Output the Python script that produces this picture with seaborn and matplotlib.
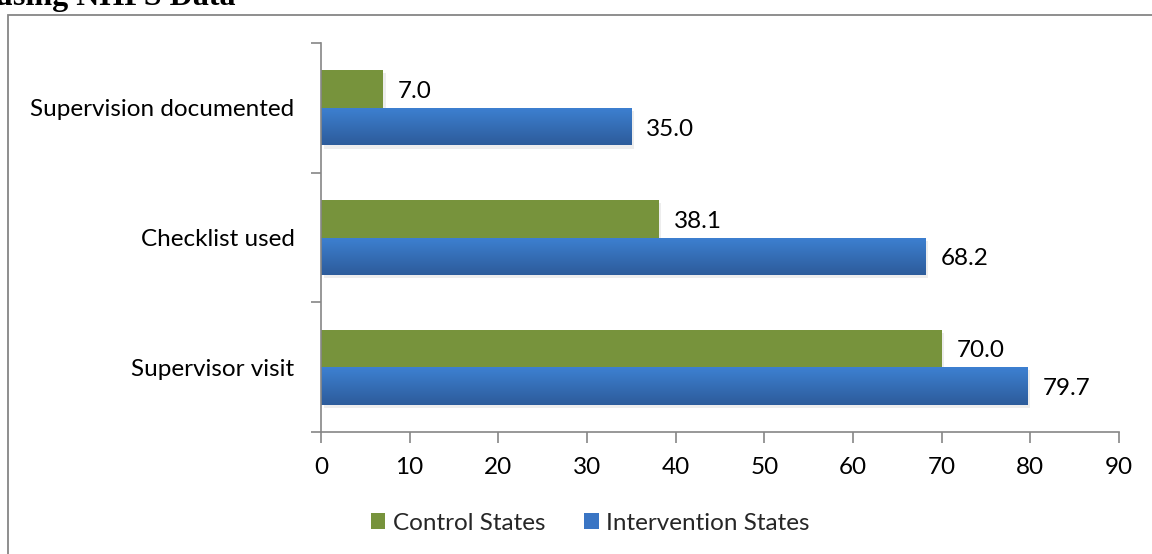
import numpy as np
import pandas as pd
import matplotlib
matplotlib.use("Agg")
import matplotlib.pyplot as plt
from matplotlib.patches import Rectangle, Patch
from matplotlib.colors import LinearSegmentedColormap
import seaborn as sns

categories = ["Supervision documented", "Checklist used", "Supervisor visit"]
control = [7.0, 38.1, 70.0]
intervention = [35.0, 68.2, 79.7]
series_names = ["Control States", "Intervention States"]
x_ticks = [0, 10, 20, 30, 40, 50, 60, 70, 80, 90]

df = pd.DataFrame({
    "category": categories * 2,
    "value": control + intervention,
    "series": [series_names[0]] * 3 + [series_names[1]] * 3,
})

sns.set_theme(style="white")
plt.rcParams["font.family"] = ["Lato", "DejaVu Sans"]

FONT = "Lato"
FS = 17.5
green = "#77933C"
blue = "#3A75C4"

fig = plt.figure(figsize=(11.52, 5.54), dpi=100)
ax = fig.add_axes([321 / 1152, 1 - 432 / 554, (1119 - 321) / 1152, (432 - 43) / 554])

sns.barplot(data=df, y="category", x="value", hue="series", order=categories,
            hue_order=series_names, palette=[green, blue], orient="h",
            width=0.58, ax=ax, legend=False, saturation=1)

bars = list(ax.patches)
grad_blue = np.linspace(0, 1, 64).reshape(-1, 1)
cmap_blue = LinearSegmentedColormap.from_list("b", ["#3D80D1", "#2D5C9B"])
for i, patch in enumerate(bars):
    x0, y0 = patch.get_x(), patch.get_y()
    w, h = patch.get_width(), patch.get_height()
    patch.set_edgecolor("none")
    sh = Rectangle((x0 + 0.3, y0 + 0.025), w, h, facecolor="#000000", alpha=0.07,
                   edgecolor="none", zorder=patch.get_zorder() - 0.5)
    ax.add_patch(sh)
    if i >= 3:
        im = ax.imshow(grad_blue, cmap=cmap_blue, aspect="auto",
                       extent=[x0, x0 + w, y0 + h, y0], zorder=patch.get_zorder() + 0.1,
                       interpolation="bilinear")
        im.set_clip_path(patch)

ax.set_xlim(0, 90)
ax.set_ylim(2.5, -0.5)
ax.set_xticks(x_ticks)
ax.set_xticklabels([str(t) for t in x_ticks], fontsize=FS, fontfamily=FONT, color="#000000")
ax.set_yticks(range(3))
ax.set_yticklabels(categories, fontsize=FS, fontfamily=FONT, color="#000000")
ax.set_yticks([-0.5, 0.5, 1.5, 2.5], minor=True)
ax.tick_params(axis="y", which="major", length=0, pad=19)
ax.tick_params(axis="y", which="minor", length=7, width=1.2, color="#868686", direction="out", left=True)
ax.tick_params(axis="x", which="major", length=8, width=1.2, color="#868686", direction="out", bottom=True, pad=10)
ax.set_xlabel("")
ax.set_ylabel("")
for s in ["top", "right"]:
    ax.spines[s].set_visible(False)
for s in ["left", "bottom"]:
    ax.spines[s].set_color("#868686")
    ax.spines[s].set_linewidth(1.2)

vals = control + intervention
for p, v in zip(bars[:6], vals):
    ax.text(p.get_x() + p.get_width() + 1.7, p.get_y() + p.get_height() / 2 + 0.02,
            f"{v:.1f}", va="center", ha="left", fontsize=FS, fontfamily=FONT, color="#000000")

handles = [Patch(facecolor=green, edgecolor="none"), Patch(facecolor=blue, edgecolor="none")]
fig.legend(handles, series_names, loc="center", bbox_to_anchor=(590 / 1152, 1 - 523 / 554),
           ncol=2, frameon=False, prop={"family": FONT, "size": FS},
           handlelength=0.6, handleheight=0.6, handletextpad=0.3, columnspacing=1.6)

fig.patches.append(Rectangle((8 / 1152, -0.05), 1.2, 1 - 15 / 554 + 0.05, transform=fig.transFigure,
                             facecolor="none", edgecolor="#868686", linewidth=1.3))

fig.text(-0.004, 1 - 5 / 554, "using NHFS Data", ha="left", va="baseline",
         fontfamily="Liberation Serif", fontweight="bold", fontsize=23, color="#000000")

fig.savefig("out.png", dpi=100)
